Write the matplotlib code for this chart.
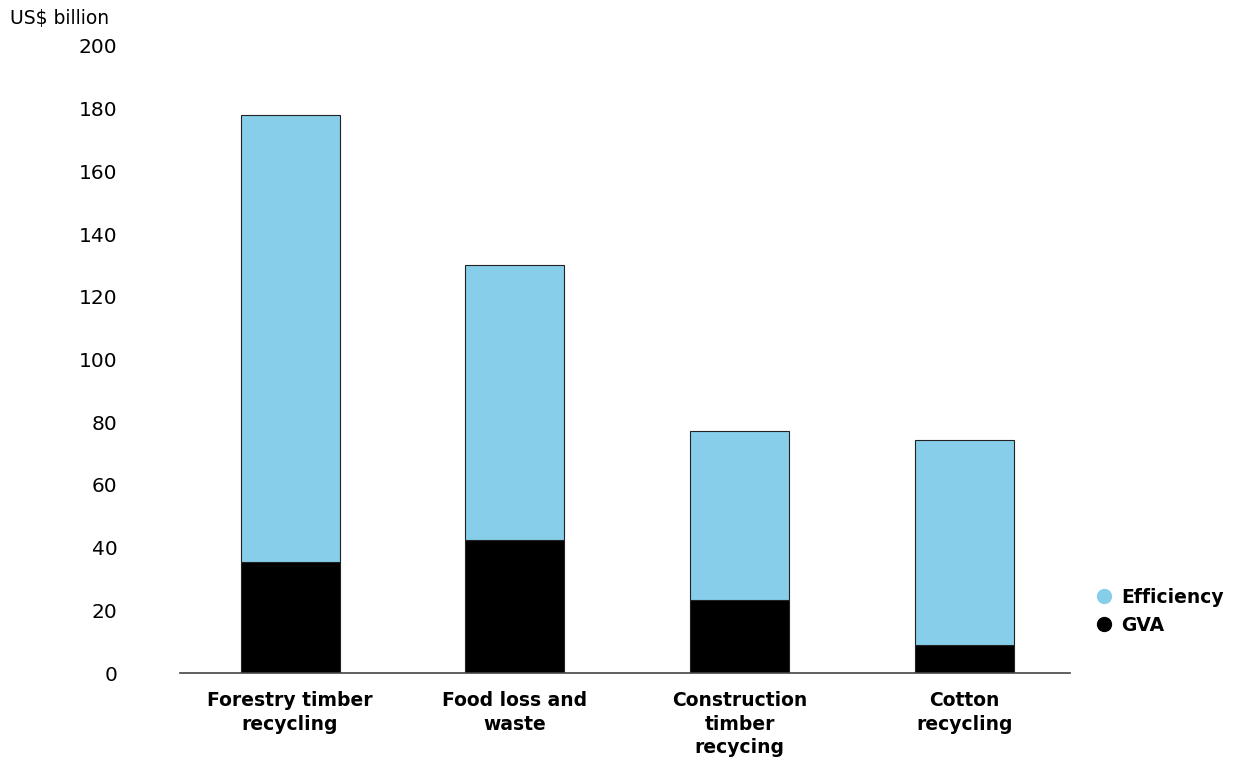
import numpy as np
import matplotlib.pyplot as plt
from matplotlib.lines import Line2D

# data
categories = ['Forestry timber\nrecycling', 'Food loss and\nwaste',
              'Construction\ntimber\nrecycing', 'Cotton\nrecycling']
gva = [35.4, 42.4, 23.3, 8.9]
total = [178.0, 130.1, 77.2, 74.3]
efficiency = [t - g for t, g in zip(total, gva)]
yticks = [0, 20, 40, 60, 80, 100, 120, 140, 160, 180, 200]

blue = '#87CEEB'

fig = plt.figure(figsize=(12.49, 7.64), dpi=100)
ax = fig.add_axes([0.1441, 0.1191, 0.7126, 0.8207])

x = np.arange(len(categories))
ax.bar(x, gva, width=0.44, color='black', edgecolor='#222222', linewidth=0.8)
ax.bar(x, efficiency, bottom=gva, width=0.44, color=blue,
       edgecolor='#222222', linewidth=0.8)

ax.set_xlim(-0.49, 3.47)
ax.set_ylim(0, 200)
ax.set_yticks(yticks)
ax.set_yticklabels([str(v) for v in yticks], fontsize=14.5, family='DejaVu Sans')
ax.set_xticks(x)
ax.set_xticklabels(categories, fontsize=13.5, fontweight='bold',
                   family='DejaVu Sans', linespacing=1.3, va='top')
ax.tick_params(axis='y', length=0, pad=45)
ax.tick_params(axis='x', length=0, pad=13)

for s in ['top', 'right', 'left']:
    ax.spines[s].set_visible(False)
ax.spines['bottom'].set_color('#444444')
ax.spines['bottom'].set_linewidth(1.2)

fig.text(0.008, 0.976, 'US$ billion', fontsize=13.5, va='center', ha='left')

handles = [Line2D([], [], marker='o', color='none', markerfacecolor=blue,
                  markeredgecolor=blue, markersize=10),
           Line2D([], [], marker='o', color='none', markerfacecolor='black',
                  markeredgecolor='black', markersize=10)]
leg = fig.legend(handles, ['Efficiency', 'GVA'], loc='center left',
                 bbox_to_anchor=(0.863, 0.2), frameon=False, handletextpad=0.4,
                 handlelength=1.0, labelspacing=0.5,
                 prop={'family': 'DejaVu Sans', 'weight': 'bold', 'size': 13.5})

fig.savefig('out.png', dpi=100)
